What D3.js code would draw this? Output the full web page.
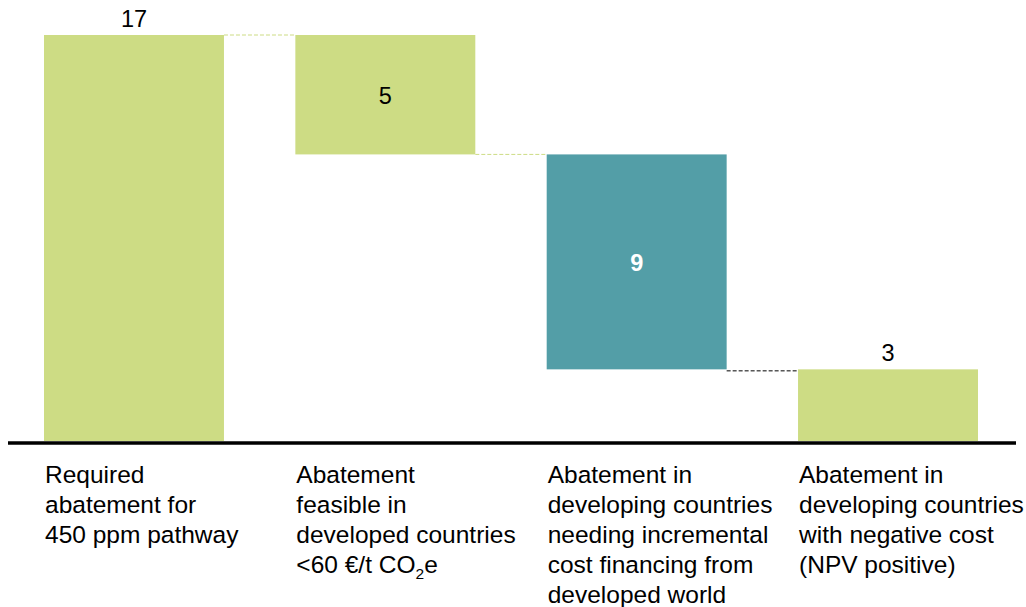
<!DOCTYPE html>
<html>
<head>
<meta charset="utf-8">
<script src="https://cdn.jsdelivr.net/npm/d3@7"></script>
<style>
  html, body { margin: 0; padding: 0; background: #ffffff; }
  svg { display: block; font-family: "Liberation Sans", Arial, sans-serif; }
</style>
</head>
<body>
<svg id="chart" width="1026" height="607"></svg>
<script>
// Abatement waterfall (Gt CO2e)
const categories = ["required", "developed", "incremental", "negative"];
const values = [17, -5, -9, 3];
const kinds = ["total", "delta", "delta", "total"];
const valueLabels = ["17", "5", "9", "3"];
const categoryLines = [
  ["Required", "abatement for", "450 ppm pathway"],
  ["Abatement", "feasible in", "developed countries", "<60 €/t CO2e"],
  ["Abatement in", "developing countries", "needing incremental", "cost financing from", "developed world"],
  ["Abatement in", "developing countries", "with negative cost", "(NPV positive)"]
];

const GREEN = "#cddc84";
const TEAL = "#539ea7";

// Build waterfall segments
let running = 0;
const segs = categories.map((c, i) => {
  let start, end;
  if (kinds[i] === "total") { start = 0; end = values[i]; running = values[i]; }
  else { start = running; end = running + values[i]; running = end; }
  return { key: c, i, start, end, lo: Math.min(start, end), hi: Math.max(start, end), kind: kinds[i], value: values[i] };
});

const svg = d3.select("#chart");

const x = d3.scaleBand().domain(categories).range([44, 978]).paddingInner(0.284).paddingOuter(0);
const y = d3.scaleLinear().domain([0, 17]).range([441, 35]);

const fill = d => (d.i === 2 ? TEAL : GREEN);

// Connectors between consecutive bars
const connectors = [
  { from: 0, to: 1, level: 17, color: GREEN, off: 0 },
  { from: 1, to: 2, level: 12, color: GREEN, off: 0 },
  { from: 2, to: 3, level: 3, color: "#000000", off: 1.5 }
];
svg.append("g").selectAll("line").data(connectors).join("line")
  .attr("x1", d => x(categories[d.from]) + x.bandwidth())
  .attr("x2", d => x(categories[d.to]))
  .attr("y1", d => y(d.level) + d.off)
  .attr("y2", d => y(d.level) + d.off)
  .attr("stroke", d => d.color)
  .attr("stroke-width", 1)
  .attr("stroke-dasharray", "4,2");

// Bars
svg.append("g").selectAll("rect").data(segs).join("rect")
  .attr("x", d => x(d.key))
  .attr("width", x.bandwidth())
  .attr("y", d => y(d.hi))
  .attr("height", d => y(d.lo) - y(d.hi))
  .attr("fill", fill);

// Value labels: totals above the bar, deltas centred inside
svg.append("g").selectAll("text").data(segs).join("text")
  .attr("x", d => x(d.key) + x.bandwidth() / 2)
  .attr("y", d => d.kind === "total" ? y(d.hi) - 8 : (y(d.hi) + y(d.lo)) / 2 + 9)
  .attr("text-anchor", "middle")
  .attr("font-size", 23.5)
  .attr("font-weight", d => d.i === 2 ? "bold" : "normal")
  .attr("fill", d => d.i === 2 ? "#ffffff" : "#000000")
  .text(d => valueLabels[d.i]);

// Baseline
svg.append("line")
  .attr("x1", 8).attr("x2", 1016)
  .attr("y1", y(0) + 2).attr("y2", y(0) + 2)
  .attr("stroke", "#000000").attr("stroke-width", 3.5);

// Category labels below the baseline
const labelG = svg.append("g");
categories.forEach((c, i) => {
  const t = labelG.append("text")
    .attr("x", x(c) + 1)
    .attr("y", 483)
    .attr("font-size", 24.5)
    .attr("fill", "#000000");
  categoryLines[i].forEach((line, j) => {
    const lineY = 483 + j * 30;
    const idx = line.indexOf("CO2");
    if (idx >= 0) {
      t.append("tspan").attr("x", x(c) + 1).attr("y", lineY).text(line.slice(0, idx + 2));
      t.append("tspan").attr("y", lineY + 6).attr("font-size", 15.5).text("2");
      t.append("tspan").attr("y", lineY).text(line.slice(idx + 3));
    } else {
      t.append("tspan").attr("x", x(c) + 1).attr("y", lineY).text(line);
    }
  });
});
</script>
</body>
</html>
